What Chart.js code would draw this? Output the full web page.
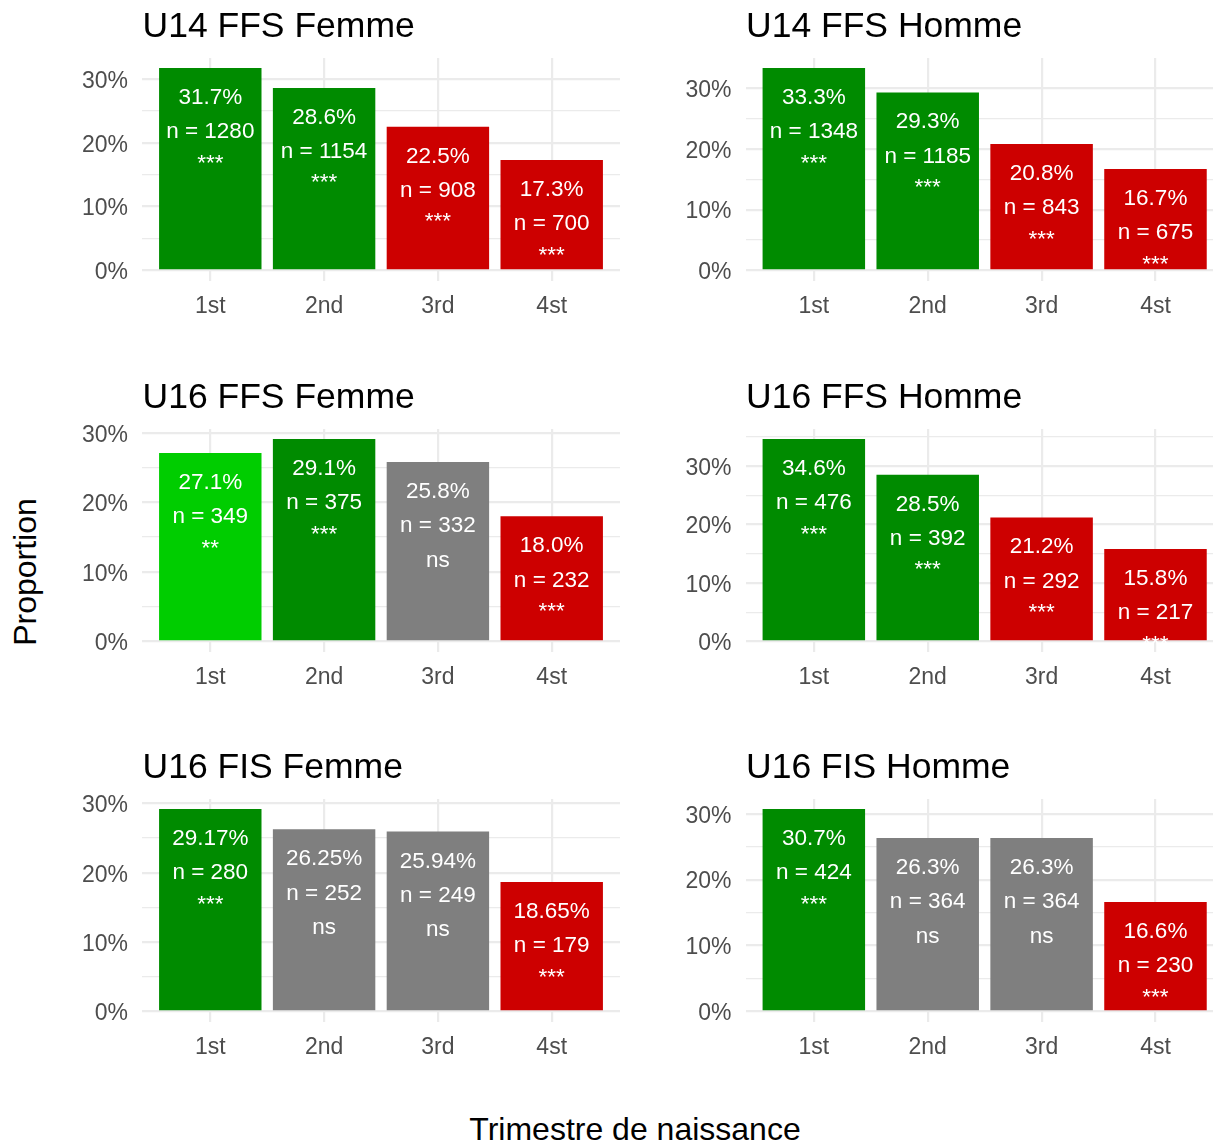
<!DOCTYPE html>
<html>
<head>
<meta charset="utf-8">
<script src="https://cdn.jsdelivr.net/npm/chart.js@4.4.1/dist/chart.umd.min.js"></script>
<style>
  body { margin: 0; background: #fff; }
  #wrap { position: relative; width: 1213px; height: 1143px; overflow: hidden; font-family: 'Liberation Sans', Arial, sans-serif; }
  #wrap canvas { position: absolute; }
  .axis-title { position: absolute; font-size: 32px; line-height: 32px; color: #000; white-space: nowrap; text-align: center; }
</style>
</head>
<body>
<div id="wrap">
  <div class="axis-title" style="left:-75px; top:556px; width:200px; transform: rotate(-90deg);">Proportion</div>
  <div class="axis-title" style="left:435px; top:1113px; width:400px;">Trimestre de naissance</div>
</div>
<script>
const quarters = ["1st", "2nd", "3rd", "4st"];
const panelTitles = ["U14 FFS Femme", "U14 FFS Homme", "U16 FFS Femme", "U16 FFS Homme", "U16 FIS Femme", "U16 FIS Homme"];

// proportion (%) per birth quarter
const u14FfsFemme = [31.7, 28.6, 22.5, 17.3];
const u14FfsHomme = [33.3, 29.3, 20.8, 16.7];
const u16FfsFemme = [27.1, 29.1, 25.8, 18.0];
const u16FfsHomme = [34.6, 28.5, 21.2, 15.8];
const u16FisFemme = [29.17, 26.25, 25.94, 18.65];
const u16FisHomme = [30.7, 26.3, 26.3, 16.6];

// counts
const u14FfsFemmeN = [1280, 1154, 908, 700];
const u14FfsHommeN = [1348, 1185, 843, 675];
const u16FfsFemmeN = [349, 375, 332, 232];
const u16FfsHommeN = [476, 392, 292, 217];
const u16FisFemmeN = [280, 252, 249, 179];
const u16FisHommeN = [424, 364, 364, 230];

// significance
const u14FfsFemmeSig = ["***", "***", "***", "***"];
const u14FfsHommeSig = ["***", "***", "***", "***"];
const u16FfsFemmeSig = ["**", "***", "ns", "***"];
const u16FfsHommeSig = ["***", "***", "***", "***"];
const u16FisFemmeSig = ["***", "ns", "ns", "***"];
const u16FisHommeSig = ["***", "ns", "ns", "***"];

// bar colour group: over (dark green), over2 (light green), ns (grey), under (red)
const u14FfsFemmeGrp = ["over", "over", "under", "under"];
const u14FfsHommeGrp = ["over", "over", "under", "under"];
const u16FfsFemmeGrp = ["over2", "over", "ns", "under"];
const u16FfsHommeGrp = ["over", "over", "under", "under"];
const u16FisFemmeGrp = ["over", "ns", "ns", "under"];
const u16FisHommeGrp = ["over", "ns", "ns", "under"];

const pctDigits = [1, 1, 1, 1, 2, 1];

const groupColors = { over: "#008B00", over2: "#00CD00", ns: "#7F7F7F", under: "#CD0000" };

const panels = [
  [u14FfsFemme, u14FfsFemmeN, u14FfsFemmeSig, u14FfsFemmeGrp],
  [u14FfsHomme, u14FfsHommeN, u14FfsHommeSig, u14FfsHommeGrp],
  [u16FfsFemme, u16FfsFemmeN, u16FfsFemmeSig, u16FfsFemmeGrp],
  [u16FfsHomme, u16FfsHommeN, u16FfsHommeSig, u16FfsHommeGrp],
  [u16FisFemme, u16FisFemmeN, u16FisFemmeSig, u16FisFemmeGrp],
  [u16FisHomme, u16FisHommeN, u16FisHommeSig, u16FisHommeGrp],
];

const FONT = "'Liberation Sans', Arial, sans-serif";
Chart.defaults.font.family = FONT;

const rowTops = [58, 428.5, 798.5];
const areaHeight = 222.5;
const canvasHeight = 320;

function labelPlugin(p) {
  return {
    id: "panelText" + p,
    afterDatasetsDraw(chart) {
      const ctx = chart.ctx;
      const area = chart.chartArea;
      const [vals, ns, sig] = panels[p];
      ctx.save();
      // panel title
      ctx.fillStyle = "#000";
      ctx.font = "35.5px " + FONT;
      ctx.textAlign = "left";
      ctx.textBaseline = "alphabetic";
      ctx.fillText(panelTitles[p], area.left + 0.5, area.top - 21);
      // bar labels
      ctx.fillStyle = "#fff";
      ctx.textAlign = "center";
      ctx.font = "22.5px " + FONT;
      chart.getDatasetMeta(0).data.forEach((bar, i) => {
        const lines = [vals[i].toFixed(pctDigits[p]) + "%", "n = " + ns[i], sig[i]];
        lines.forEach((t, k) => {
          const lift = t.startsWith("*") ? 3 : 0;
          ctx.fillText(t, bar.x, bar.y + 36 + 34.3 * k - lift);
        });
      });
      ctx.restore();
    }
  };
}

panels.forEach((panel, p) => {
  const [vals, , , grp] = panel;
  const row = Math.floor(p / 2);
  const col = p % 2;
  const canvas = document.createElement("canvas");
  const width = col === 0 ? 620 : 593;
  canvas.width = width;
  canvas.height = canvasHeight;
  canvas.style.left = (col === 0 ? 0 : 620) + "px";
  canvas.style.top = (rowTops[row] - 58) + "px";
  document.getElementById("wrap").appendChild(canvas);

  const top = Math.max(...vals);

  new Chart(canvas, {
    type: "bar",
    data: {
      datasets: [{
        data: vals.map((v, i) => ({ x: i + 1, y: v })),
        backgroundColor: grp.map(g => groupColors[g]),
        borderWidth: 0,
        barPercentage: 0.9,
        categoryPercentage: 1.0,
      }]
    },
    options: {
      responsive: false,
      devicePixelRatio: 1,
      animation: false,
      layout: { padding: { top: 58, left: 0, right: 0, bottom: 0 } },
      plugins: { legend: { display: false }, tooltip: { enabled: false } },
      scales: {
        x: {
          type: "linear",
          offset: false,
          min: 0.4,
          max: col === 0 ? 4.6 : 4.505,
          afterBuildTicks: (s) => { s.ticks = [1, 2, 3, 4].map(v => ({ value: v })); },
          afterFit: (s) => { s.height = canvasHeight - 58 - areaHeight; },
          ticks: {
            autoSkip: false,
            maxRotation: 0,
            padding: 12,
            color: "#4D4D4D",
            font: { size: 23 },
            callback: (v) => quarters[v - 1],
          },
          grid: { color: "#EBEBEB", lineWidth: 2.2, drawTicks: false, offset: false },
          border: { display: false },
        },
        y: {
          min: -0.05 * top,
          max: 1.05 * top,
          afterBuildTicks: (s) => {
            const t = [];
            for (let v = 0; v <= s.max; v += 5) t.push({ value: v });
            s.ticks = t;
          },
          afterFit: (s) => { s.width = col === 0 ? 142 : 125.5; },
          ticks: {
            autoSkip: false,
            padding: 14,
            labelOffset: 2.5,
            color: "#4D4D4D",
            font: { size: 23 },
            callback: (v) => (v % 10 === 0 ? v + "%" : ""),
          },
          grid: {
            color: "#EBEBEB",
            lineWidth: (c) => (c.tick && c.tick.value % 10 === 0 ? 2.2 : 1.3),
            drawTicks: false,
          },
          border: { display: false },
        }
      }
    },
    plugins: [labelPlugin(p)]
  });
});
</script>
</body>
</html>
